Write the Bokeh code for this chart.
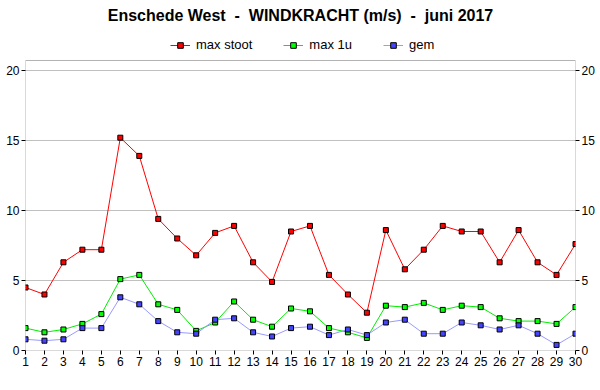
from bokeh.plotting import figure
from bokeh.models import (Range1d, LinearAxis, FixedTicker, Legend, LegendItem,
                          BoxAnnotation)
from bokeh.embed import file_html
from bokeh.resources import INLINE

days = list(range(1, 31))
max_stoot = [4.5, 4.0, 6.3, 7.2, 7.2, 15.2, 13.9, 9.4, 8.0, 6.8,
             8.4, 8.9, 6.3, 4.9, 8.5, 8.9, 5.4, 4.0, 2.7, 8.6,
             5.8, 7.2, 8.9, 8.5, 8.5, 6.3, 8.6, 6.3, 5.4, 7.6]
max_1u = [1.6, 1.3, 1.5, 1.9, 2.6, 5.1, 5.4, 3.3, 2.9, 1.4,
          2.0, 3.5, 2.2, 1.7, 3.0, 2.8, 1.6, 1.3, 0.9, 3.2,
          3.1, 3.4, 2.9, 3.2, 3.1, 2.3, 2.1, 2.1, 1.9, 3.1]
gem = [0.8, 0.7, 0.8, 1.6, 1.6, 3.8, 3.3, 2.1, 1.3, 1.2,
       2.2, 2.3, 1.3, 1.0, 1.6, 1.7, 1.1, 1.5, 1.1, 2.0,
       2.2, 1.2, 1.2, 2.0, 1.8, 1.5, 1.8, 1.2, 0.4, 1.2]
y_ticks = [0, 5, 10, 15, 20]
NB = "\u00a0"
title_text = f"Enschede West{NB} -{NB} WINDKRACHT (m/s){NB} -{NB} juni 2017"

FONT = "Liberation Sans"
Y_TOP = 20.714      # top of the drawn chart box
Y_END = 23.071      # extra room above for the legend

p = figure(width=600, height=390, output_backend="svg", toolbar_location=None,
           x_range=Range1d(1, 30), y_range=Range1d(0, Y_END),
           min_border_left=25, min_border_right=25, min_border_top=27,
           min_border_bottom=40, title=title_text)

p.title.align = "center"
p.title.text_font = FONT
p.title.text_font_size = "16px"
p.title.text_font_style = "bold"
p.title.text_color = "black"
p.title.standoff = 8

p.outline_line_color = None

p.xgrid.visible = False
p.ygrid.ticker = FixedTicker(ticks=y_ticks)
p.ygrid.grid_line_color = "#c0c0c0"
p.ygrid.grid_line_width = 1

p.add_layout(BoxAnnotation(left=1, right=30, bottom=0, top=Y_TOP,
                           fill_alpha=0, line_color="black", line_width=1,
                           level="overlay"))

def style_axis(ax):
    ax.axis_line_color = None
    ax.major_tick_line_color = "black"
    ax.major_tick_out = 4
    ax.major_tick_in = 0
    ax.minor_tick_line_color = None
    ax.major_label_text_font = FONT
    ax.major_label_text_font_size = "12px"
    ax.major_label_text_color = "black"
    ax.major_label_standoff = 2

p.xaxis.ticker = FixedTicker(ticks=days)
style_axis(p.xaxis[0])
p.yaxis.ticker = FixedTicker(ticks=y_ticks)
style_axis(p.yaxis[0])

ry = LinearAxis(ticker=FixedTicker(ticks=y_ticks))
style_axis(ry)
p.add_layout(ry, "right")

series = [("max stoot", max_stoot, "#ff0000", "#ff0000"),
          ("max 1u", max_1u, "#00ee00", "#00ff00"),
          ("gem", gem, "#9999ff", "#4444ff")]

items = []
for name, vals, lc, fc in series:
    l = p.line(days, vals, line_color=lc, line_width=1)
    s = p.scatter(days, vals, marker="square", size=5, fill_color=fc,
                  line_color="black", line_width=1)
    items.append(LegendItem(label=name, renderers=[l, s]))

legend = Legend(items=items, orientation="horizontal", location=(145, 298),
                border_line_color=None, background_fill_alpha=0,
                glyph_width=20, glyph_height=14, label_standoff=6,
                spacing=31, padding=2, margin=0,
                label_text_font=FONT, label_text_font_size="13px",
                label_text_color="black")
p.add_layout(legend, "center")

open("out.html", "w").write(file_html(p, INLINE))
